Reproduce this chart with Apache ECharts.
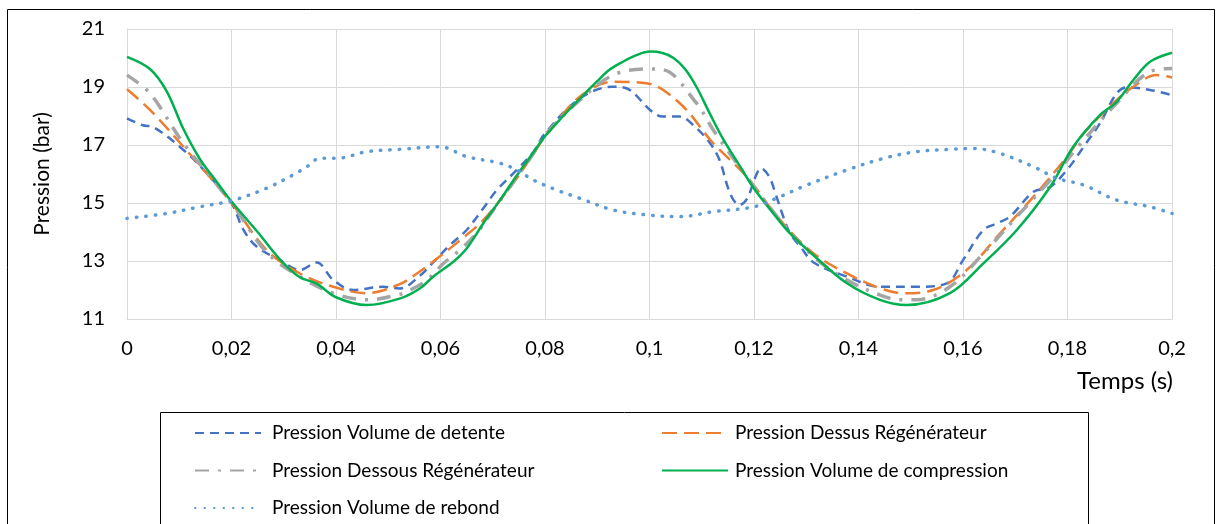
<!DOCTYPE html>
<html><head><meta charset="utf-8">
<script src="https://cdn.jsdelivr.net/npm/echarts@6/dist/echarts.min.js"></script>
<style>html,body{margin:0;padding:0;background:#fff}#c{width:1217px;height:524px}</style>
</head><body><div id="c"></div>
<script>
// ---- data ----
const seriesNames = ['Pression Volume de detente','Pression Dessus Régénérateur','Pression Dessous Régénérateur','Pression Volume de compression','Pression Volume de rebond'];

const tDetente = [0,0.003,0.005,0.0108,0.0153,0.02,0.0223,0.0248,0.0293,0.0331,0.0363,0.0395,0.0433,0.049,0.0522,0.0561,0.0586,0.0618,0.065,0.0682,0.0708,0.0746,0.0778,0.08,0.0867,0.093,0.0962,0.1001,0.1025,0.1058,0.1087,0.1116,0.1134,0.1155,0.1172,0.1187,0.1203,0.1213,0.1229,0.1241,0.1256,0.1269,0.1289,0.1314,0.1378,0.1441,0.1511,0.1569,0.16,0.1639,0.1665,0.169,0.1735,0.1767,0.1799,0.1831,0.1862,0.1894,0.1913,0.1958,0.2];
const pDetente = [17.92,17.68,17.62,16.83,16.02,14.99,14.07,13.5,13.03,12.69,12.95,12.34,12.0,12.11,12.05,12.5,12.95,13.55,14.07,14.82,15.45,16.14,16.77,17.4,18.61,19.01,18.9,18.21,17.98,17.98,17.63,17.06,16.48,15.3,14.93,15.16,15.91,16.2,15.91,15.33,14.53,13.95,13.49,12.95,12.46,12.11,12.11,12.23,13.03,14.07,14.3,14.53,15.39,15.56,16.14,16.94,17.75,18.78,18.99,18.9,18.72];

const tDessus = [0,0.0044,0.0108,0.02,0.0267,0.0331,0.0395,0.0459,0.0522,0.0555,0.0586,0.065,0.0682,0.0714,0.0746,0.0778,0.0803,0.0867,0.093,0.0994,0.1058,0.1122,0.1186,0.125,0.1314,0.1378,0.1441,0.1486,0.1543,0.1607,0.1671,0.1735,0.1799,0.1831,0.1894,0.1926,0.197,0.2];
const pDessus = [18.92,18.21,16.94,15.0,13.38,12.57,12.11,11.89,12.2,12.57,12.98,13.9,14.41,15.1,15.85,16.71,17.35,18.67,19.18,19.13,18.44,17.06,15.91,14.41,13.26,12.57,12.06,11.89,12.0,12.69,13.95,15.22,16.6,17.4,18.55,19.01,19.41,19.33];

const tDessous = [0,0.0044,0.0108,0.02,0.0267,0.0331,0.0395,0.0459,0.0522,0.0542,0.0574,0.0606,0.0637,0.0669,0.0701,0.0733,0.0778,0.0803,0.0867,0.093,0.0994,0.1025,0.109,0.1122,0.1186,0.125,0.1314,0.1378,0.1441,0.148,0.1511,0.1575,0.1639,0.1703,0.1767,0.1831,0.1894,0.1958,0.2];
const pDessous = [19.41,18.78,17.06,15.0,13.3,12.46,11.89,11.66,11.85,12.0,12.34,12.92,13.38,13.95,14.76,15.56,16.71,17.4,18.55,19.41,19.62,19.6,18.44,17.52,15.91,14.41,13.15,12.34,11.83,11.66,11.66,12.11,13.26,14.53,15.79,17.17,18.44,19.53,19.64];

const tCompression = [0,0.0044,0.0076,0.0108,0.014,0.0172,0.02,0.025,0.0293,0.033,0.0363,0.04,0.0459,0.0523,0.0561,0.0586,0.0625,0.065,0.0682,0.0714,0.0746,0.0778,0.08,0.0835,0.0867,0.09,0.0924,0.095,0.0975,0.1001,0.1025,0.1046,0.1068,0.109,0.1115,0.1141,0.1172,0.12,0.1237,0.1269,0.131,0.1378,0.1441,0.1492,0.1575,0.1639,0.1703,0.1767,0.1811,0.1862,0.1894,0.1926,0.1958,0.2];
const pCompression = [20.04,19.62,18.85,17.55,16.5,15.72,15.05,14.0,13.05,12.45,12.22,11.75,11.48,11.71,12.06,12.46,12.98,13.43,14.3,15.1,15.95,16.75,17.3,18.0,18.6,19.2,19.6,19.88,20.1,20.22,20.17,20.0,19.62,19.0,18.1,17.2,16.3,15.5,14.64,13.95,13.26,12.23,11.66,11.48,11.89,12.92,14.07,15.56,16.94,18.03,18.49,19.24,19.87,20.18];

const tRebond = [0,0.0076,0.014,0.02,0.0267,0.0318,0.0344,0.0369,0.0401,0.0459,0.0522,0.0599,0.065,0.0714,0.0746,0.0778,0.0822,0.0867,0.093,0.0994,0.1058,0.1122,0.12,0.125,0.1301,0.1378,0.1448,0.1511,0.1575,0.162,0.1671,0.1735,0.178,0.1831,0.1894,0.1958,0.2];
const pRebond = [14.47,14.64,14.87,15.08,15.51,15.97,16.25,16.54,16.54,16.77,16.85,16.94,16.6,16.37,16.14,15.79,15.45,15.16,14.76,14.59,14.53,14.7,14.87,15.22,15.62,16.14,16.54,16.77,16.85,16.88,16.71,16.25,15.85,15.62,15.1,14.87,14.64];

const xMin = 0, xMax = 0.2, xStep = 0.02;
const yMin = 11, yMax = 21, yStep = 2;
const xTitle = 'Temps (s)';
const yTitle = 'Pression (bar)';

// ---- chart ----
const FONT = 'Lato';
const pair = (t, p) => t.map((v, i) => [v, p[i]]);
const chart = echarts.init(document.getElementById('c'), null, {renderer: 'canvas'});

function lineSeries(name, t, p, color, width, type, cap) {
  return {
    name, type: 'line', data: pair(t, p), smooth: 0.35, symbol: 'none', showSymbol: false,
    lineStyle: {color, width, type, cap: cap || 'butt'}, itemStyle: {color},
    emphasis: {disabled: true}, animation: false
  };
}

const legendText = {fontFamily: FONT, fontSize: 19, color: '#000', lineHeight: 20, padding: [0, 0, 0, 6]};
const legendBase = {orient: 'vertical', top: 423, padding: 0, itemWidth: 66, itemHeight: 14, itemGap: 17.5,
  height: 120, textStyle: legendText, selectedMode: false, itemStyle: {opacity: 0}};

chart.setOption({
  animation: false,
  backgroundColor: '#fff',
  grid: {left: 127, right: 45, top: 29, bottom: 205, containLabel: false},
  xAxis: {
    type: 'value', min: xMin, max: xMax, interval: xStep,
    axisLine: {show: true, lineStyle: {color: '#D9D9D9', width: 1}},
    axisTick: {show: false},
    splitLine: {show: true, lineStyle: {color: '#D9D9D9', width: 1}},
    axisLabel: {fontFamily: FONT, fontSize: 20, color: '#000', margin: 20,
      formatter: v => String(+v.toFixed(2)).replace('.', ',')}
  },
  yAxis: {
    type: 'value', min: yMin, max: yMax, interval: yStep,
    name: yTitle, nameLocation: 'middle', nameGap: 74, nameRotate: 90,
    nameTextStyle: {fontFamily: FONT, fontSize: 21, color: '#000'},
    axisLine: {show: true, lineStyle: {color: '#D9D9D9', width: 1}},
    axisTick: {show: false},
    splitLine: {show: true, lineStyle: {color: '#D9D9D9', width: 1}},
    axisLabel: {fontFamily: FONT, fontSize: 20, color: '#000', margin: 22}
  },
  legend: [
    Object.assign({}, legendBase, {left: 194, data: [seriesNames[0], seriesNames[2], seriesNames[4]]}),
    Object.assign({}, legendBase, {left: 661, data: [seriesNames[1], seriesNames[3]],
      textStyle: Object.assign({}, legendText, {padding: [0, 0, 0, 2]})})
  ],
  graphic: [
    {type: 'rect', shape: {x: 7.5, y: 9.5, width: 1207, height: 700}, style: {fill: 'none', stroke: '#000', lineWidth: 1}, silent: true},
    {type: 'rect', shape: {x: 160.5, y: 412.5, width: 928, height: 300}, style: {fill: 'none', stroke: '#000', lineWidth: 1}, silent: true},
    {type: 'text', x: 1173, y: 381, style: {text: xTitle, fontFamily: FONT, fontSize: 24, fill: '#000', textAlign: 'right', textVerticalAlign: 'middle'}, silent: true}
  ],
  series: [
    lineSeries(seriesNames[0], tDetente, pDetente, '#4472C4', 2.5, [9, 6]),
    lineSeries(seriesNames[1], tDessus, pDessus, '#ED7D31', 2.5, [15, 7]),
    lineSeries(seriesNames[2], tDessous, pDessous, '#A5A5A5', 3.5, [14, 9, 3, 9]),
    lineSeries(seriesNames[3], tCompression, pCompression, '#00B050', 2.5, 'solid'),
    lineSeries(seriesNames[4], tRebond, pRebond, '#5B9BD5', 3.5, [0.5, 9], 'round')
  ]
});
</script>
</body></html>
